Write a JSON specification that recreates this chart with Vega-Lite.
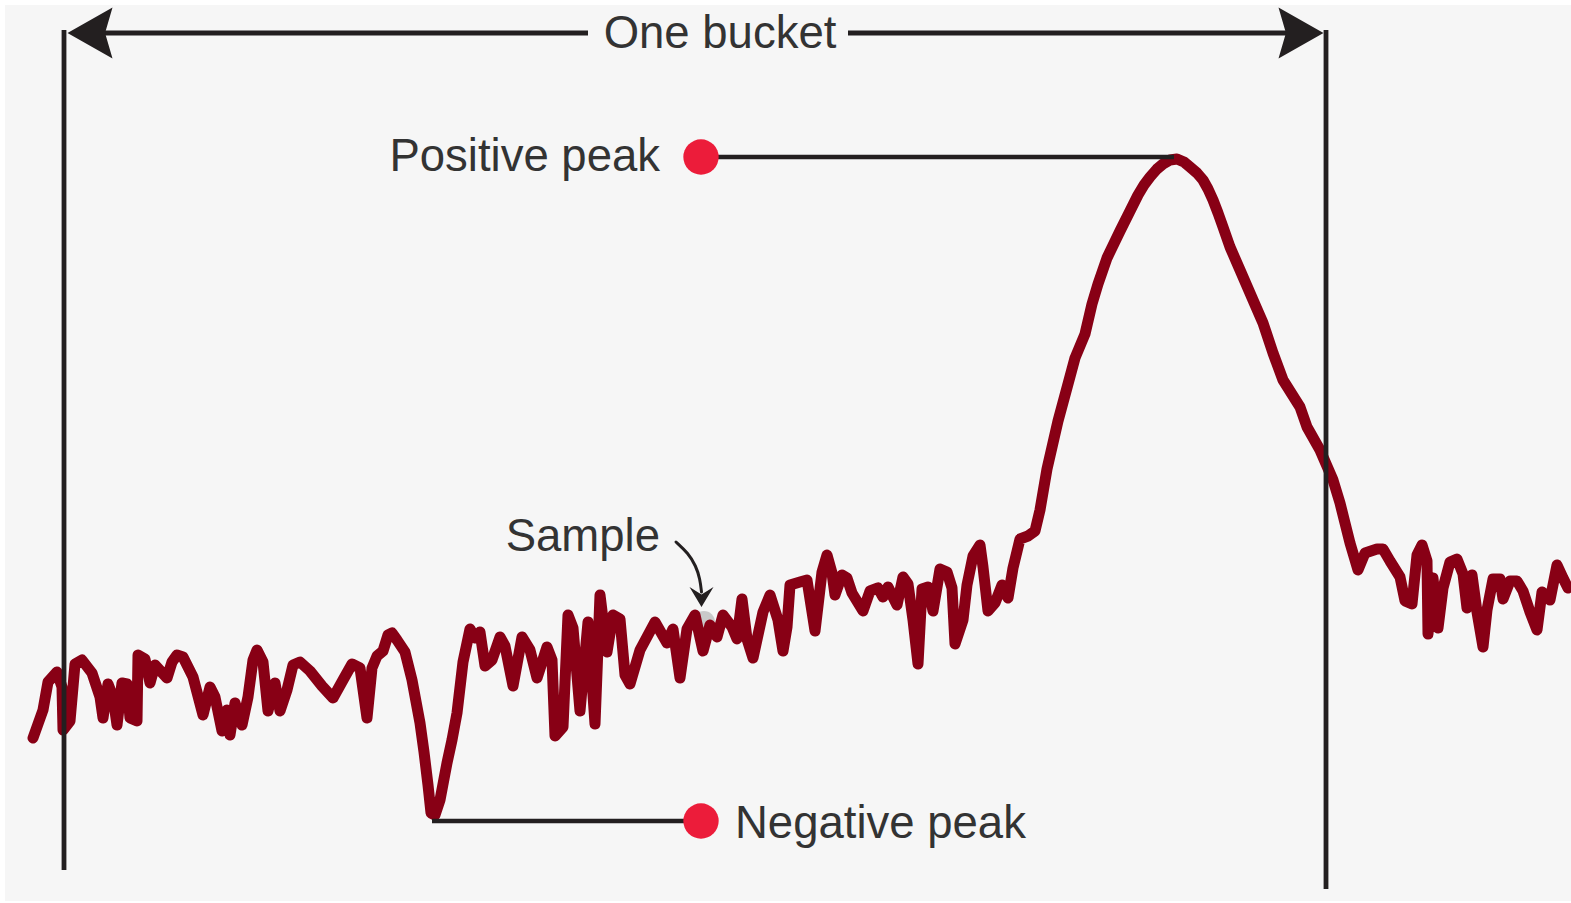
{
  "$schema": "https://vega.github.io/schema/vega-lite/v6.json",
  "width": 1571,
  "height": 903,
  "padding": 0,
  "autosize": {"type": "none"},
  "background": "#ffffff",
  "config": {"view": {"stroke": null}},
  "datasets": {
    "bg": [{"x": 5, "x2": 1571, "y": 5, "y2": 901}],
    "signal": [
      {"x":33,"y":738},{"x":43,"y":710},{"x":48,"y":682},{"x":57,"y":672},{"x":62,"y":687},{"x":63,"y":730},{"x":70,"y":721},{"x":73,"y":687},{"x":75,"y":664},{"x":82,"y":660},{"x":92,"y":673},{"x":100,"y":697},{"x":103,"y":718},{"x":108,"y":684},{"x":113,"y":697},{"x":117,"y":725},{"x":122,"y":683},{"x":127,"y":684},{"x":130,"y":718},{"x":137,"y":721},{"x":138,"y":655},{"x":145,"y":659},{"x":150,"y":683},{"x":155,"y":665},{"x":167,"y":678},{"x":172,"y":662},{"x":177,"y":655},{"x":183,"y":657},{"x":193,"y":677},{"x":203,"y":715},{"x":210,"y":687},{"x":215,"y":697},{"x":222,"y":731},{"x":227,"y":710},{"x":230,"y":735},{"x":235,"y":703},{"x":242,"y":725},{"x":248,"y":697},{"x":253,"y":660},{"x":257,"y":650},{"x":263,"y":662},{"x":268,"y":711},{"x":275,"y":683},{"x":280,"y":711},{"x":287,"y":690},{"x":293,"y":665},{"x":300,"y":662},{"x":310,"y":671},{"x":322,"y":686},{"x":333,"y":698},{"x":343,"y":680},{"x":352,"y":664},{"x":360,"y":668},{"x":367,"y":718},{"x":372,"y":668},{"x":377,"y":656},{"x":383,"y":651},{"x":388,"y":635},{"x":392,"y":633},{"x":397,"y":640},{"x":405,"y":652},{"x":412,"y":680},{"x":420,"y":723},{"x":424,"y":752},{"x":428,"y":785},{"x":431,"y":813},{"x":435,"y":815},{"x":440,"y":800},{"x":447,"y":763},{"x":452,"y":740},{"x":457,"y":713},{"x":463,"y":662},{"x":470,"y":629},{"x":475,"y":638},{"x":480,"y":632},{"x":485,"y":666},{"x":492,"y":660},{"x":500,"y":637},{"x":505,"y":646},{"x":513,"y":686},{"x":522,"y":637},{"x":530,"y":650},{"x":537,"y":678},{"x":547,"y":647},{"x":552,"y":660},{"x":555,"y":736},{"x":563,"y":727},{"x":568,"y":615},{"x":573,"y":628},{"x":580,"y":711},{"x":588,"y":622},{"x":595,"y":724},{"x":600,"y":595},{"x":607,"y":652},{"x":613,"y":615},{"x":620,"y":619},{"x":625,"y":675},{"x":630,"y":684},{"x":640,"y":650},{"x":655,"y":622},{"x":667,"y":643},{"x":673,"y":629},{"x":680,"y":678},{"x":687,"y":629},{"x":695,"y":615},{"x":703,"y":651},{"x":710,"y":625},{"x":717,"y":637},{"x":723,"y":615},{"x":732,"y":627},{"x":737,"y":639},{"x":742,"y":599},{"x":747,"y":639},{"x":753,"y":658},{"x":763,"y":612},{"x":770,"y":595},{"x":778,"y":620},{"x":783,"y":651},{"x":787,"y":627},{"x":790,"y":585},{"x":800,"y":582},{"x":807,"y":580},{"x":815,"y":631},{"x":822,"y":572},{"x":827,"y":555},{"x":832,"y":573},{"x":835,"y":595},{"x":842,"y":575},{"x":847,"y":578},{"x":852,"y":593},{"x":863,"y":611},{"x":870,"y":591},{"x":878,"y":588},{"x":883,"y":597},{"x":888,"y":587},{"x":897,"y":605},{"x":903,"y":577},{"x":908,"y":584},{"x":913,"y":620},{"x":918,"y":664},{"x":922,"y":589},{"x":928,"y":587},{"x":933,"y":611},{"x":940,"y":569},{"x":947,"y":572},{"x":952,"y":588},{"x":955,"y":644},{"x":963,"y":620},{"x":967,"y":585},{"x":973,"y":556},{"x":980,"y":545},{"x":983,"y":567},{"x":988,"y":611},{"x":995,"y":603},{"x":1002,"y":585},{"x":1008,"y":598},{"x":1013,"y":568},{"x":1020,"y":539},{"x":1028,"y":536},{"x":1035,"y":531},{"x":1040,"y":510},{"x":1047,"y":469},{"x":1058,"y":421},{"x":1068,"y":384},{"x":1075,"y":358},{"x":1085,"y":334},{"x":1092,"y":304},{"x":1098,"y":284},{"x":1107,"y":258},{"x":1120,"y":231},{"x":1130,"y":211},{"x":1138,"y":195},{"x":1144,"y":185},{"x":1150,"y":177},{"x":1157,"y":169},{"x":1163,"y":164},{"x":1170,"y":160},{"x":1177,"y":159},{"x":1184,"y":162},{"x":1190,"y":167},{"x":1197,"y":173},{"x":1203,"y":180},{"x":1208,"y":189},{"x":1213,"y":200},{"x":1218,"y":213},{"x":1223,"y":227},{"x":1230,"y":247},{"x":1240,"y":270},{"x":1253,"y":300},{"x":1263,"y":323},{"x":1273,"y":353},{"x":1283,"y":380},{"x":1300,"y":407},{"x":1307,"y":427},{"x":1320,"y":450},{"x":1333,"y":480},{"x":1340,"y":503},{"x":1345,"y":523},{"x":1350,"y":543},{"x":1358,"y":570},{"x":1365,"y":553},{"x":1377,"y":549},{"x":1383,"y":549},{"x":1390,"y":561},{"x":1400,"y":577},{"x":1405,"y":601},{"x":1412,"y":604},{"x":1417,"y":555},{"x":1422,"y":545},{"x":1427,"y":561},{"x":1428,"y":634},{"x":1433,"y":578},{"x":1438,"y":628},{"x":1443,"y":588},{"x":1450,"y":562},{"x":1457,"y":559},{"x":1463,"y":574},{"x":1467,"y":608},{"x":1472,"y":575},{"x":1477,"y":612},{"x":1483,"y":647},{"x":1487,"y":610},{"x":1493,"y":579},{"x":1500,"y":579},{"x":1503,"y":599},{"x":1510,"y":581},{"x":1517,"y":581},{"x":1523,"y":591},{"x":1530,"y":612},{"x":1537,"y":630},{"x":1542,"y":592},{"x":1550,"y":600},{"x":1557,"y":565},{"x":1563,"y":578},{"x":1568,"y":588}
    ],
    "verticals": [{"x": 64, "y": 30, "y2": 870}, {"x": 1326, "y": 30, "y2": 889}],
    "bucketLines": [{"x": 95, "x2": 588, "y": 33}, {"x": 848, "x2": 1295, "y": 33}],
    "peakLines": [{"x": 700, "x2": 1174, "y": 157}, {"x": 432, "x2": 700, "y": 821}],
    "peakDots": [{"x": 701, "y": 157}, {"x": 701, "y": 821}],
    "sampleDot": [{"x": 704, "y": 622}],
    "sampleCurve": [{"x": 676, "y": 542}, {"x": 688, "y": 553}, {"x": 696, "y": 566}, {"x": 700, "y": 579}, {"x": 701.5, "y": 592}],
    "sampleHead": [{"x": 701.5, "y": 597}],
    "leftHead": [{"x": 90, "y": 33}],
    "rightHead": [{"x": 1301, "y": 33}],
    "labelsRight": [{"x": 660, "y": 171, "label": "Positive peak"}, {"x": 660, "y": 551, "label": "Sample"}],
    "labelsLeft": [{"x": 735, "y": 838, "label": "Negative peak"}],
    "labelsCenter": [{"x": 720, "y": 48, "label": "One bucket"}]
  },
  "encoding": {
    "x": {"field": "x", "type": "quantitative", "axis": null, "scale": {"domain": [0, 1571], "nice": false, "zero": false}},
    "y": {"field": "y", "type": "quantitative", "axis": null, "scale": {"domain": [0, 903], "nice": false, "zero": false, "reverse": true}}
  },
  "layer": [
    {"data": {"name": "bg"}, "mark": {"type": "rect", "color": "#f6f6f6"},
     "encoding": {"x2": {"field": "x2"}, "y2": {"field": "y2"}}},
    {"data": {"name": "sampleDot"}, "mark": {"type": "point", "filled": true, "color": "#c4c4c4", "opacity": 0.9, "size": 480, "shape": "circle"}},
    {"data": {"name": "signal"}, "mark": {"type": "line", "color": "#880015", "strokeWidth": 11, "strokeJoin": "round", "strokeCap": "round"}},
    {"data": {"name": "verticals"}, "mark": {"type": "rule", "color": "#231f20", "strokeWidth": 4.8},
     "encoding": {"y2": {"field": "y2"}}},
    {"data": {"name": "bucketLines"}, "mark": {"type": "rule", "color": "#231f20", "strokeWidth": 5},
     "encoding": {"x2": {"field": "x2"}}},
    {"data": {"name": "leftHead"}, "mark": {"type": "point", "filled": true, "color": "#231f20", "opacity": 1, "size": 2025, "shape": "M -1 0 L 1 -1.13 L 0.67 0 L 1 1.13 Z"}},
    {"data": {"name": "rightHead"}, "mark": {"type": "point", "filled": true, "color": "#231f20", "opacity": 1, "size": 2025, "shape": "M 1 0 L -1 -1.13 L -0.67 0 L -1 1.13 Z"}},
    {"data": {"name": "peakLines"}, "mark": {"type": "rule", "color": "#231f20", "strokeWidth": 4.5},
     "encoding": {"x2": {"field": "x2"}}},
    {"data": {"name": "peakDots"}, "mark": {"type": "point", "filled": true, "color": "#ec1c3a", "opacity": 1, "size": 1250, "shape": "circle"}},
    {"data": {"name": "sampleCurve"}, "mark": {"type": "line", "color": "#231f20", "strokeWidth": 3, "interpolate": "basis", "strokeCap": "round"}},
    {"data": {"name": "sampleHead"}, "mark": {"type": "point", "filled": true, "color": "#231f20", "opacity": 1, "size": 576, "shape": "M 0 0.83 L -1 -0.83 L 0 -0.2 L 1 -0.83 Z"}},
    {"data": {"name": "labelsRight"}, "mark": {"type": "text", "align": "right", "baseline": "alphabetic", "font": "Liberation Sans", "fontSize": 45.5, "color": "#333333"},
     "encoding": {"text": {"field": "label"}}},
    {"data": {"name": "labelsLeft"}, "mark": {"type": "text", "align": "left", "baseline": "alphabetic", "font": "Liberation Sans", "fontSize": 45.5, "color": "#333333"},
     "encoding": {"text": {"field": "label"}}},
    {"data": {"name": "labelsCenter"}, "mark": {"type": "text", "align": "center", "baseline": "alphabetic", "font": "Liberation Sans", "fontSize": 45.5, "color": "#333333"},
     "encoding": {"text": {"field": "label"}}}
  ]
}
